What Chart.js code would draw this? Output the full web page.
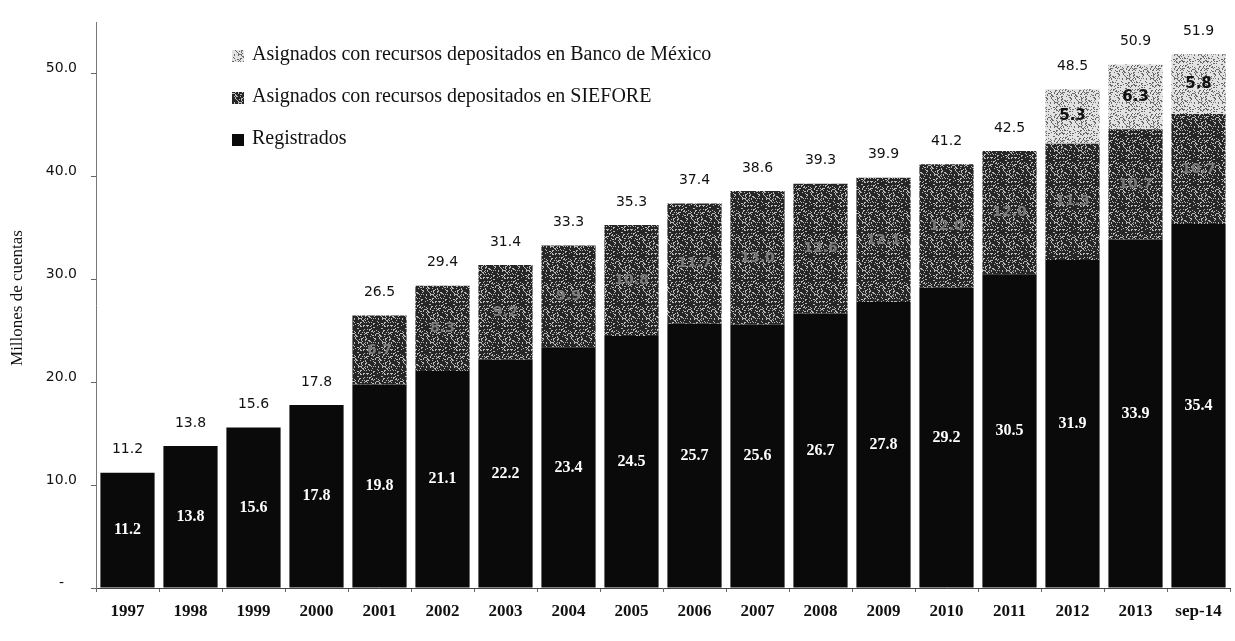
<!DOCTYPE html>
<html>
<head>
<meta charset="utf-8">
<script src="https://cdn.jsdelivr.net/npm/chart.js@4.4.1/dist/chart.umd.min.js"></script>
<style>
  html, body { margin: 0; padding: 0; background: #fff; }
  #wrap { width: 1235px; height: 641px; position: relative; }
</style>
</head>
<body>
<div id="wrap"><canvas id="chart"></canvas></div>
<script>
const categories = ['1997', '1998', '1999', '2000', '2001', '2002', '2003', '2004', '2005',
    '2006', '2007', '2008', '2009', '2010', '2011', '2012', '2013', 'sep-14'];
const registrados = [11.2, 13.8, 15.6, 17.8, 19.8, 21.1, 22.2, 23.4, 24.5,
    25.7, 25.6, 26.7, 27.8, 29.2, 30.5, 31.9, 33.9, 35.4];
const siefore = [null, null, null, null, 6.7, 8.3, 9.2, 9.9, 10.8,
    11.7, 13.0, 12.6, 12.1, 12.0, 12.0, 11.3, 10.7, 10.7];
const banxico = [null, null, null, null, null, null, null, null, null,
    null, null, null, null, null, null, 5.3, 6.3, 5.8];
const totales = [11.2, 13.8, 15.6, 17.8, 26.5, 29.4, 31.4, 33.3, 35.3,
    37.4, 38.6, 39.3, 39.9, 41.2, 42.5, 48.5, 50.9, 51.9];
const yTicks = [0, 10, 20, 30, 40, 50];

const serif = '"Liberation Serif", "DejaVu Serif", serif';
const sans = '"DejaVu Sans", sans-serif';

// speckled fill like the scanned original
function texture(base, speck, density) {
    const c = document.createElement('canvas');
    c.width = 24; c.height = 24;
    const g = c.getContext('2d');
    g.fillStyle = base;
    g.fillRect(0, 0, 24, 24);
    g.fillStyle = speck;
    for (let i = 0; i < 576; i++) {
        const h = Math.abs(Math.sin(i * 12.9898 + 78.233) * 43758.5453) % 1;
        if (h < density) g.fillRect(i % 24, Math.floor(i / 24), 1, 1);
    }
    return g.createPattern(c, 'repeat');
}
const ctx0 = document.getElementById('chart').getContext('2d');
const colRegistrados = '#0a0a0a';
const colSiefore = texture('#262626', '#b8b8b8', 0.22);
const colBanxico = texture('#e2e2e2', '#6a6a6a', 0.25);

const barLabels = {
    id: 'barLabels',
    afterDatasetsDraw(chart) {
        const c = chart.ctx;
        c.save();
        c.textAlign = 'center';
        c.textBaseline = 'middle';
        chart.data.datasets.forEach((ds, di) => {
            const meta = chart.getDatasetMeta(di);
            meta.data.forEach((bar, i) => {
                const v = ds.data[i];
                if (v == null) return;
                const y = (bar.y + bar.base) / 2;
                if (di === 0) {
                    c.font = 'bold 16px ' + serif;
                    c.fillStyle = '#ffffff';
                } else if (di === 1) {
                    c.font = 'bold 14px ' + sans;
                    c.fillStyle = '#7a7a7a';
                } else {
                    c.font = 'bold 15px ' + sans;
                    c.fillStyle = '#111111';
                }
                c.fillText(v.toFixed(1), bar.x, y);
            });
        });
        // totals above each stack
        c.font = '14px ' + sans;
        c.fillStyle = '#111111';
        const xScale = chart.scales.x;
        totales.forEach((t, i) => {
            const x = xScale.getPixelForValue(i);
            let top = Infinity;
            chart.data.datasets.forEach((ds, di) => {
                if (ds.data[i] != null) top = Math.min(top, chart.getDatasetMeta(di).data[i].y);
            });
            c.fillText(t.toFixed(1), x, top - 23);
        });
        c.restore();
    }
};

const sideTexts = {
    id: 'sideTexts',
    afterDraw(chart) {
        const c = chart.ctx;
        c.save();
        // legend, top series first
        const items = [2, 1, 0];
        const rows = [55, 97, 139];
        c.font = '20px ' + serif;
        c.textBaseline = 'middle';
        c.textAlign = 'left';
        items.forEach((di, k) => {
            const ds = chart.data.datasets[di];
            c.fillStyle = ds.backgroundColor;
            c.fillRect(232, rows[k] - 5, 12, 12);
            c.fillStyle = '#111111';
            c.fillText(ds.label, 252, rows[k]);
        });
        // y axis title
        c.translate(18, 298);
        c.rotate(-Math.PI / 2);
        c.textAlign = 'center';
        c.font = '17px ' + serif;
        c.fillText('Millones de cuentas', 0, 0);
        c.restore();
    }
};

new Chart(ctx0, {
    type: 'bar',
    data: {
        labels: categories,
        datasets: [
            { label: 'Registrados', data: registrados, backgroundColor: colRegistrados },
            { label: 'Asignados con recursos depositados en SIEFORE', data: siefore, backgroundColor: colSiefore },
            { label: 'Asignados con recursos depositados en Banco de México', data: banxico, backgroundColor: colBanxico },
        ],
    },
    options: {
        responsive: true,
        maintainAspectRatio: false,
        animation: false,
        events: [],
        layout: { padding: { top: 10, right: 5, left: 0, bottom: 0 } },
        datasets: { bar: { barPercentage: 0.86, categoryPercentage: 1.0 } },
        plugins: {
            legend: { display: false },
            tooltip: { enabled: false },
        },
        scales: {
            x: {
                stacked: true,
                border: { color: '#444444', width: 1 },
                grid: { drawOnChartArea: false, tickLength: 4, color: '#666666', offset: true },
                ticks: {
                    color: '#111111',
                    padding: 9,
                    font: { family: serif, size: 17, weight: 'bold' },
                    maxRotation: 0,
                },
                afterFit(axis) { axis.height = 53; },
            },
            y: {
                stacked: true,
                min: 0,
                max: 55,
                border: { color: '#777777', width: 1 },
                grid: { drawOnChartArea: false, tickLength: 5, color: '#666666' },
                afterBuildTicks(axis) { axis.ticks = yTicks.map(v => ({ value: v })); },
                ticks: {
                    color: '#111111',
                    padding: 14,
                    crossAlign: 'center',
                    labelOffset: -5,
                    font: { family: sans, size: 14 },
                    callback: v => v === 0 ? '-' : v.toFixed(1),
                },
                afterFit(axis) { axis.width = 96; },
            },
        },
    },
    plugins: [barLabels, sideTexts],
});
</script>
</body>
</html>
